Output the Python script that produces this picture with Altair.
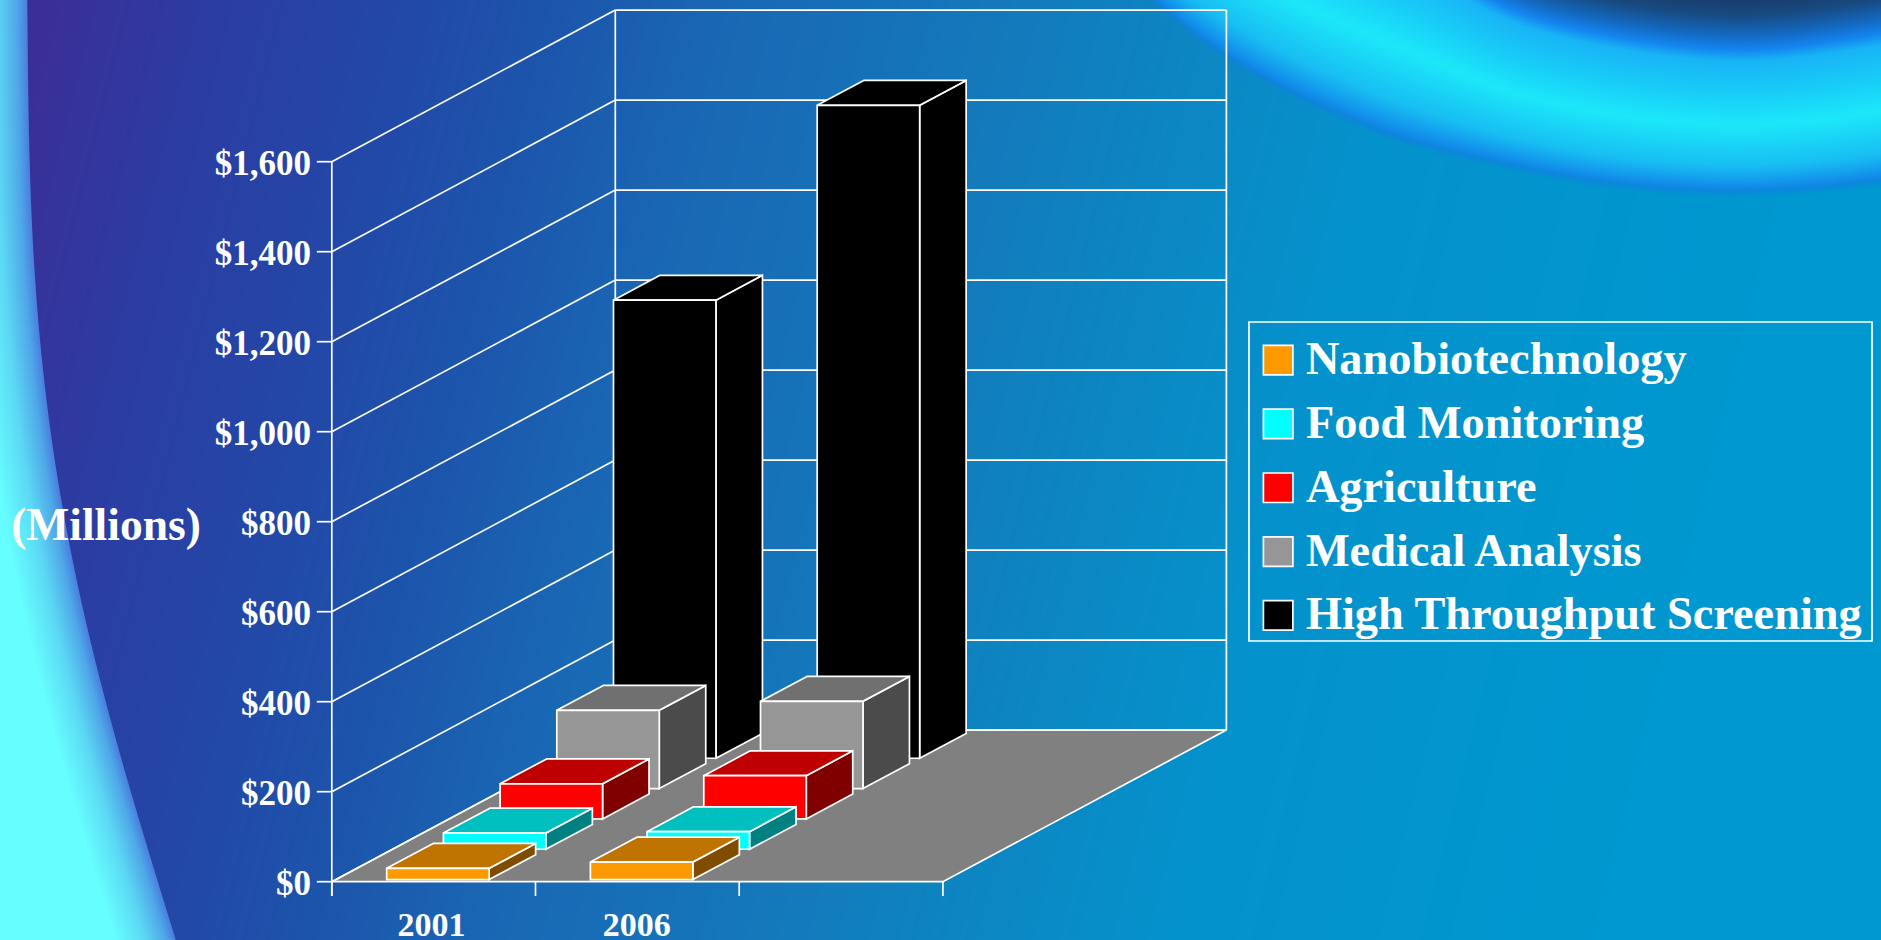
import base64
import struct
import zlib

import altair as alt
import numpy as np
import pandas as pd

# ---- chart values ---------------------------------------------------------
series = ["Nanobiotechnology", "Food Monitoring", "Agriculture",
          "Medical Analysis", "High Throughput Screening"]
years = ["2001", "2006"]
values_2001 = [25, 36, 78, 174, 1018]
values_2006 = [39, 39, 96, 194, 1451]
y_ticks = [0, 200, 400, 600, 800, 1000, 1200, 1400, 1600]
y_tick_labels = ["$0", "$200", "$400", "$600", "$800", "$1,000", "$1,200", "$1,400", "$1,600"]

front_colours = ["#FF9900", "#00FFFF", "#FF0000", "#969696", "#000000"]
top_colours = ["#BF7300", "#00BFBF", "#BF0000", "#707070", "#000000"]
side_colours = ["#804D00", "#008080", "#800000", "#4B4B4B", "#000000"]

# ---- oblique projection: each depth slot shifts right and up ---------------
W, H = 1881, 940
PX_PER_CAT = 203.7
PX_PER_USD = 0.45
ORIGIN_X, ORIGIN_Y = 331.8, 881.7
SLOT_DX = 56.7 / PX_PER_CAT      # category units per depth slot
SLOT_DY = 30.33 / PX_PER_USD     # dollars per depth slot
N_SLOTS = 5
N_CATS = 3
BAR_START, BAR_END = 0.25, 0.753
DEPTH_GAP, DEPTH_END = 0.07, 0.89

x_scale = alt.Scale(domain=[-ORIGIN_X / PX_PER_CAT, (W - ORIGIN_X) / PX_PER_CAT],
                    range=[0, W], zero=False, nice=False)
y_scale = alt.Scale(domain=[(ORIGIN_Y - H) / PX_PER_USD, ORIGIN_Y / PX_PER_USD],
                    range=[H, 0], zero=False, nice=False)


def px(u, d):
    return u + d * SLOT_DX


def py(v, d):
    return v + d * SLOT_DY


X = alt.X("x:Q", scale=x_scale, axis=None)
Y = alt.Y("y:Q", scale=y_scale, axis=None)
STROKE = dict(stroke="white", strokeWidth=1.7)
SERIF = "Liberation Serif"


# ---- backdrop: a blue gradient with the cyan arc and the swirl -------------
def hex_rgb(colours):
    return np.array([[int(c[i:i + 2], 16) for i in (1, 3, 5)] for c in colours], float)


def ramp(t, stops, colours):
    rgb = hex_rgb(colours)
    return np.stack([np.interp(t, stops, rgb[:, k]) for k in range(3)], axis=-1)


def smooth_curve(xs, ys, window=81):
    # piecewise curve through the control points, softened with a double box filter
    grid = np.arange(-window, W + window, dtype=float)
    line = np.interp(grid, xs, ys)
    kernel = np.ones(window) / window
    for _ in range(2):
        line = np.convolve(line, kernel, mode="same")
    return grid[window:-window], line[window:-window]


def backdrop():
    yy, xx = np.mgrid[0:H, 0:W].astype(float)
    img = ramp(xx + 0.25 * yy,
               [40, 200, 400, 550, 712, 1012, 1225, 1400, 1825],
               ["#3C2E98", "#2D3CA2", "#2348A8", "#1D55AC", "#1A67B4",
                "#147ABC", "#0C88C4", "#0592CC", "#0098D0"])

    # glowing band, top right
    g, low_c = smooth_curve([1000, 1150, 1224, 1299, 1399, 1498, 1598, 1722, 1822, 1960],
                            [-170, 0, 57, 97, 140, 163, 183, 193, 188, 170])
    _, up_c = smooth_curve([1100, 1300, 1449, 1478, 1548, 1648, 1747, 1822, 1960],
                           [-200, -100, -32, 0, 23, 43, 52, 43, 20])
    low = np.interp(xx, g, low_c)
    up = np.interp(xx, g, up_c)
    t = (yy - up) / np.maximum(low - up, 1)
    band = ramp(t, [0, 0.08, 0.3, 0.53, 0.82, 0.95, 1.0],
                ["#1585F0", "#18B4F6", "#18CCF8", "#1CE8FA", "#18BEF3", "#1392EC", "#1080E2"])
    dark = ramp(up - yy, [0, 15, 35, 55], ["#1585F0", "#1468C0", "#184A80", "#1A3A68"])
    band = np.where((yy < up)[..., None], dark, band)
    mask = np.clip((low + 6 - yy) / 10, 0, 1) * np.clip((xx - 1040) / 20, 0, 1)
    img = img * (1 - mask[..., None]) + band * mask[..., None]

    # cyan arc down the left edge
    coef = np.polyfit([0, 100, 300, 400, 500, 600, 700, 800, 940],
                      [26, 28, 35, 45, 62, 79, 105, 132, 175], 4)
    edge = np.polyval(coef, yy)
    dist = edge - xx
    arc = ramp(dist, [0, 10, 30, 60], ["#4A80E0", "#4FA8E8", "#5CD8F5", "#66FFFF"])
    cover = np.clip(dist + 1, 0, 1)[..., None]
    img = img * (1 - cover) + arc * cover
    return np.clip(img, 0, 255).astype(np.uint8)


def png_uri(arr):
    h, w, _ = arr.shape
    raw = b"".join(b"\x00" + arr[r].tobytes() for r in range(h))

    def chunk(tag, data):
        return (struct.pack(">I", len(data)) + tag + data
                + struct.pack(">I", zlib.crc32(tag + data) & 0xFFFFFFFF))

    blob = (b"\x89PNG\r\n\x1a\n"
            + chunk(b"IHDR", struct.pack(">IIBBBBB", w, h, 8, 2, 0, 0, 0))
            + chunk(b"IDAT", zlib.compress(raw, 9))
            + chunk(b"IEND", b""))
    return "data:image/png;base64," + base64.b64encode(blob).decode()


background = alt.Chart(alt.Data(values=[{"src": png_uri(backdrop())}])).mark_image(
    width=W, height=H, aspect=False, align="left", baseline="top"
).encode(x=alt.value(0), y=alt.value(0), url="src:N")

# ---- floor, walls and gridlines --------------------------------------------
floor = pd.DataFrame([
    {"y": py(0, 0), "x": px(0, 0), "x2": px(N_CATS, 0)},
    {"y": py(0, N_SLOTS), "x": px(0, N_SLOTS), "x2": px(N_CATS, N_SLOTS)},
])
floor_layer = alt.Chart(floor).mark_area(orient="horizontal", fill="#808080", **STROKE).encode(
    y=Y, x=alt.X("x:Q", scale=x_scale, axis=None, stack=None), x2="x2:Q"
)

segments = []
tick_len = 15 / PX_PER_CAT
for v in y_ticks:
    # axis tick, then along the left wall, then across the back wall
    segments.append((-tick_len, py(v, 0), px(0, 0), py(v, 0)))
    segments.append((px(0, 0), py(v, 0), px(0, N_SLOTS), py(v, N_SLOTS)))
    segments.append((px(0, N_SLOTS), py(v, N_SLOTS), px(N_CATS, N_SLOTS), py(v, N_SLOTS)))
top_v = y_ticks[-1]
tick_drop = -14.3 / PX_PER_USD
segments += [
    (px(0, 0), tick_drop, px(0, 0), py(top_v, 0)),
    (px(0, N_SLOTS), py(0, N_SLOTS), px(0, N_SLOTS), py(top_v, N_SLOTS)),
    (px(N_CATS, N_SLOTS), py(0, N_SLOTS), px(N_CATS, N_SLOTS), py(top_v, N_SLOTS)),
]
for c in range(N_CATS + 1):
    segments.append((px(c, 0), tick_drop, px(c, 0), 0))
grid = pd.DataFrame(segments, columns=["x", "y", "x2", "y2"])
grid_layer = alt.Chart(grid).mark_rule(color="white", strokeWidth=1.7).encode(
    x=X, y=Y, x2="x2:Q", y2="y2:Q"
)

# ---- dollar labels beside the front edge of the left wall ------------------
tick_label_layer = alt.Chart(pd.DataFrame({"y": y_ticks, "label": y_tick_labels})).mark_text(
    font=SERIF, fontWeight="bold", fontSize=35, color="white", align="right", baseline="middle", dy=2
).encode(x=alt.value(311), y=Y, text="label:N")

# ---- bars, painted from the back slot to the front -------------------------
colour = alt.Color(
    "series:N",
    scale=alt.Scale(domain=series, range=front_colours),
    legend=alt.Legend(
        orient="none", legendX=1255, legendY=337, title=None, padding=0,
        symbolType="square", symbolSize=870, symbolStrokeColor="white", symbolStrokeWidth=1.7,
        labelFont=SERIF, labelFontWeight="bold", labelFontSize=46.3, labelColor="white",
        labelLimit=700, labelOffset=4.6, rowPadding=16.8),
)

bar_layers = []
for slot in range(N_SLOTS - 1, -1, -1):
    d0, d1 = slot + DEPTH_GAP, slot + DEPTH_END
    fronts, sides, tops = [], [], []
    for c, v in enumerate([values_2001[slot], values_2006[slot]]):
        u0, u1 = c + BAR_START, c + BAR_END
        fronts.append({"series": series[slot], "x": px(u0, d0), "x2": px(u1, d0),
                       "y": py(0, d0), "y2": py(v, d0)})
        for d in (d0, d1):
            sides.append({"cat": years[c], "x": px(u1, d), "y": py(0, d), "y2": py(v, d)})
            tops.append({"cat": years[c], "y": py(v, d), "x": px(u0, d), "x2": px(u1, d)})
    bar_layers.append(
        alt.Chart(pd.DataFrame(sides)).mark_area(
            orient="vertical", fill=side_colours[slot], **STROKE
        ).encode(x=X, y=alt.Y("y:Q", scale=y_scale, axis=None, stack=None),
                 y2="y2:Q", detail="cat:N"))
    bar_layers.append(
        alt.Chart(pd.DataFrame(tops)).mark_area(
            orient="horizontal", fill=top_colours[slot], **STROKE
        ).encode(y=Y, x=alt.X("x:Q", scale=x_scale, axis=None, stack=None),
                 x2="x2:Q", detail="cat:N"))
    bar_layers.append(
        alt.Chart(pd.DataFrame(fronts)).mark_rect(**STROKE).encode(
            x=X, x2="x2:Q", y=Y, y2="y2:Q", color=colour))

# ---- year labels, unit caption and legend frame ----------------------------
year_layer = alt.Chart(pd.DataFrame({"x": [0.49, 1.497], "label": years})).mark_text(
    font=SERIF, fontWeight="bold", fontSize=34, color="white", baseline="alphabetic"
).encode(x=X, y=alt.value(936), text="label:N")

unit_layer = alt.Chart(pd.DataFrame({"label": ["(Millions)"]})).mark_text(
    font=SERIF, fontWeight="bold", fontSize=45.5, color="white", baseline="alphabetic"
).encode(x=alt.value(106), y=alt.value(540), text="label:N")

legend_frame = alt.Chart(pd.DataFrame({"k": [0]})).mark_rect(
    fill="transparent", stroke="white", strokeWidth=1.7
).encode(x=alt.value(1249), x2=alt.value(1872), y=alt.value(322), y2=alt.value(641))

chart = alt.layer(
    background, floor_layer, grid_layer, tick_label_layer, *bar_layers,
    year_layer, unit_layer, legend_frame,
).properties(
    width=W, height=H, padding=0, autosize=alt.AutoSizeParams(type="none")
).configure_view(stroke=None)

chart.save("out.html", embed_options={"renderer": "svg", "actions": False})
